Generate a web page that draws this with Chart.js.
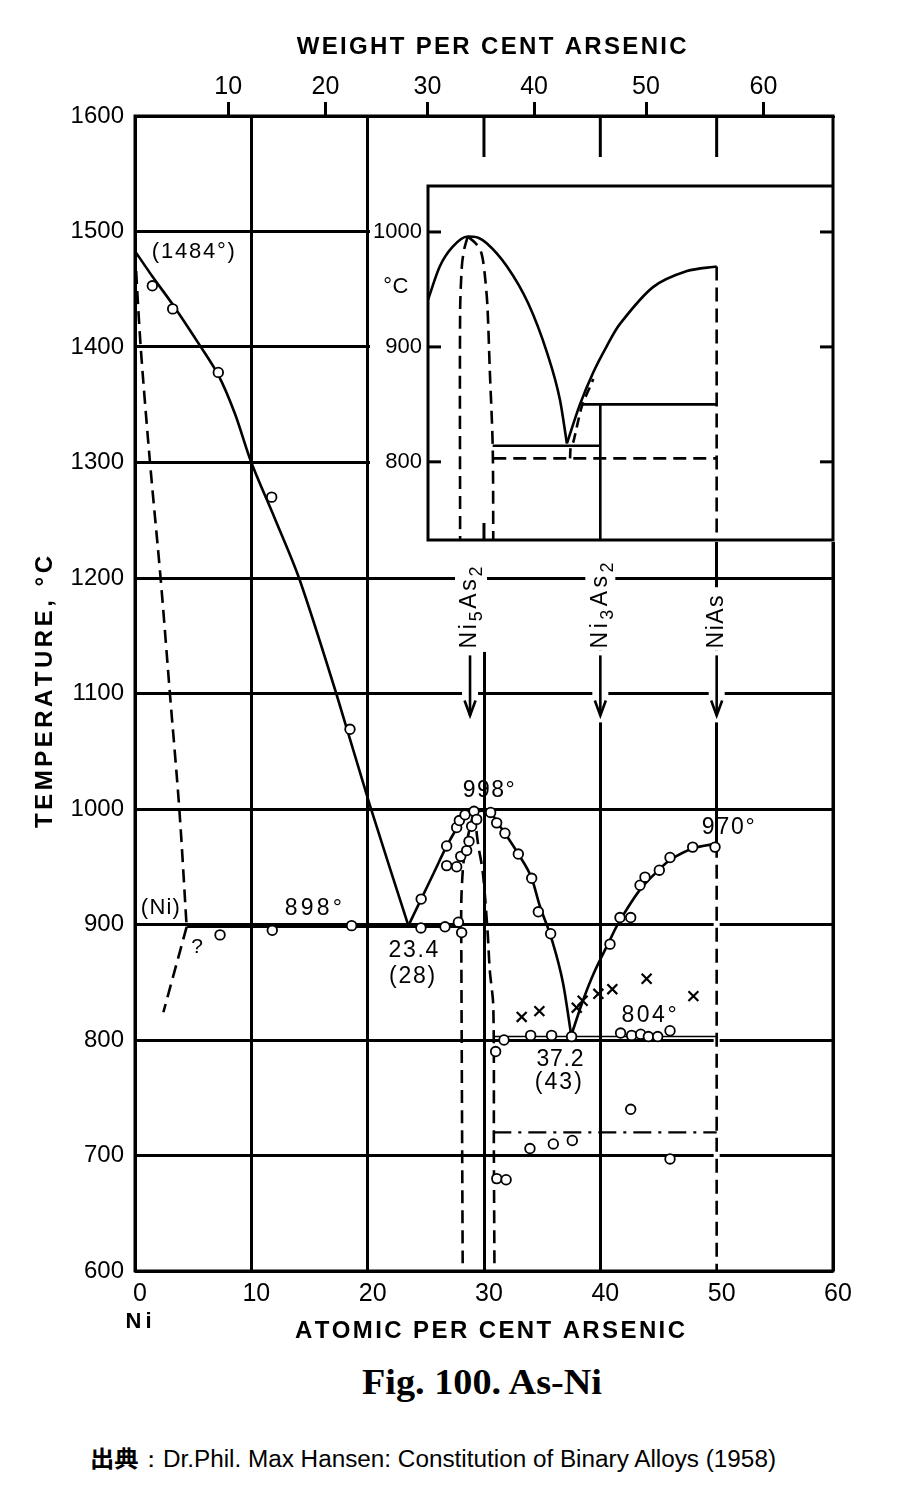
<!DOCTYPE html>
<html>
<head>
<meta charset="utf-8">
<title>As-Ni</title>
<script src="https://cdn.jsdelivr.net/npm/chart.js"></script>
<style>
  body { margin: 0; background: #fff; width: 902px; height: 1502px; position: relative; overflow: hidden; }
  #main { position: absolute; left: 0; top: 0; }
  #inset { position: absolute; left: 370px; top: 118px; background: #fff; }
  .caption { position: absolute; white-space: nowrap; line-height: 1; transform-origin: 0 0; color: #000; }
  #fig { left: 362px; top: 1363px; font: bold 35px "Liberation Serif", serif; }
  #src { left: 90px; top: 1440px; font: 23px "Liberation Sans", sans-serif; }
  #src b { font-family: "Noto Sans CJK JP", sans-serif; }
</style>
</head>
<body>
<canvas id="main" width="902" height="1360"></canvas>
<canvas id="inset" width="465" height="424"></canvas>
<div id="fig" class="caption">Fig. 100. As-Ni</div>
<div id="src" class="caption"><b>出典</b>：Dr.Phil. Max Hansen: Constitution of Binary Alloys (1958)</div>

<script>

// liquidus from pure Ni to the 898° eutectic
const liqNiX = [0, 1.5, 3.3, 5.6, 7.2, 8.6, 10, 12, 14.1, 17.3, 20.2, 23.5];
const liqNiT = [1483, 1461, 1436, 1401, 1375, 1342, 1300, 1252, 1200, 1100, 1003, 899];
// solidus / solvus of (Ni), dashed
const solNiX = [0, 0.49, 1.29, 2.2, 3.0, 3.81, 4.44];
const solNiT = [1483, 1400, 1300, 1200, 1100, 1000, 898];
const solvusX = [4.44, 2.44];
const solvusT = [898, 824];
// eutectic horizontal
const eut898X = [4.44, 28.05];
const eut898T = [898, 898];
// liquidus over the Ni5As2 maximum (998°)
const liqPeakX = [23.5, 24.6, 25.7, 26.8, 27.7, 28.4, 29.14, 30.0, 30.6, 31.1, 31.8, 32.95, 34.1, 34.8, 35.8, 36.8, 37.5];
const liqPeakT = [899, 922, 945, 968, 984, 995, 998, 998.5, 997, 989, 979, 961, 940, 916, 888, 849, 804];
// liquidus up to NiAs (970°)
const liqNiAsX = [37.5, 38.5, 39.4, 40.7, 41.6, 43.4, 45.1, 46.0, 48.0, 50.0];
const liqNiAsT = [804, 834, 857, 884, 902, 930, 948, 956, 966, 970];
// Ni5As2 phase boundaries, dashed
const ni5LeftX = [29.14, 28.7, 28.4, 28.2, 28.05, 28.05, 28.17];
const ni5LeftT = [998, 980, 965, 950, 920, 880, 600];
const ni5RightX = [29.14, 29.3, 29.5, 29.9, 30.3, 30.5, 30.8, 30.85, 30.9];
const ni5RightT = [998, 985, 969, 945, 895, 860, 829, 700, 600];
// 804° horizontal, NiAs line, 720° transformation
const eut804X = [30.8, 50];
const eut804T = [803, 803];
const niAsX = [50, 50];
const niAsT = [970, 600];
const trans720X = [30.8, 50];
const trans720T = [720, 720];

// thermal analysis points (open circles)
const circleX = [1.49, 3.24, 7.16, 11.75, 18.48,
  7.31, 11.8, 18.62, 24.58, 26.65, 27.8, 28.08,
  24.6, 26.79, 27.65, 27.88, 28.37, 29.14, 30.57, 31.09, 31.8, 32.95, 34.1, 34.67, 35.73,
  26.79, 27.65, 28.0, 28.51, 28.71, 28.94, 29.37,
  31.72, 34.01, 35.81, 37.53, 41.74, 42.69, 43.47, 44.13, 44.93, 45.99,
  31.0, 42.61, 33.95, 35.96, 37.59, 45.99, 31.1, 31.9,
  40.83, 41.69, 42.61, 43.41, 43.84, 45.07, 45.99, 47.94, 49.86];
const circleT = [1453, 1433, 1378, 1270, 1069,
  891, 895, 899, 897, 898, 902, 893,
  922, 968, 984, 990, 995, 998, 997, 988, 979, 961, 940, 911, 892,
  951, 950, 959, 964, 972, 985, 991,
  800, 804, 804, 803, 806, 804, 805, 803, 803, 808,
  790, 740, 706, 710, 713, 697, 680, 679,
  883, 906, 906, 934, 941, 947, 958, 967, 967];
// crosses
const crossX = [33.24, 34.76, 37.97, 38.48, 39.83, 41.03, 43.98, 48.0];
const crossT = [820, 825, 828, 834, 840, 844, 853, 838];

// compounds marked with arrows
const compoundAt = [28.8, 40, 50];
const compoundRuns = [
  [['Ni', 0], ['5', 1], ['As', 0], ['2', 1]],
  [['Ni', 0], ['3', 1], ['As', 0], ['2', 1]],
  [['Ni', 0], ['As', 0]]
];

// axes
const tempTicks = [600, 700, 800, 900, 1000, 1100, 1200, 1300, 1400, 1500, 1600];
const weightTicks = [10, 20, 30, 40, 50, 60];

// inset (same composition scale)
const insetXMin = 25.19;
const insetTMin = 732;
const insetTMax = 1040;
const insetTicks = [800, 900, 1000];
const inLiqX = [25.19, 26.2, 27.3, 28.6, 29.5, 30.26, 31.98, 33.8, 35.42, 36.53, 37.13];
const inLiqT = [941, 970, 987, 996, 995, 990, 970, 938, 895, 854, 816];
const inLiqRX = [37.13, 38.25, 39.4, 40.57, 41.69, 44.53, 47.45, 50];
const inLiqRT = [816, 850, 878, 901, 920, 952, 966, 970];
const inNi5LX = [28.6, 28.3, 28.1, 27.95, 27.95];
const inNi5LT = [996, 985, 970, 930, 732];
const inNi5RX = [28.6, 29.3, 29.8, 30.1, 30.3, 30.5, 30.75, 30.8];
const inNi5RT = [996, 990, 981, 960, 935, 880, 814, 732];
const in815X = [30.75, 40];
const in815T = [814, 814];
const in803X = [30.8, 50];
const in803T = [803, 803];
const inHighX = [37.4, 37.45, 37.7, 38.4, 39.4];
const inHighT = [803, 812, 818, 848, 872];
const in850X = [38.4, 50];
const in850T = [850, 850];
const inNi3X = [40, 40];
const inNi3T = [850, 732];
const inNiAsX = [50, 50];
const inNiAsT = [970, 732];

const FONT = '"Liberation Sans", Arial, sans-serif';
const DASH = [13, 7];

function weightToAtomic(w) {
  const as = w / 74.92, ni = (100 - w) / 58.69;
  return 100 * as / (as + ni);
}

function xy(xs, ts) {
  return xs.map((x, i) => ({ x: x, y: ts[i] }));
}

function lineSet(xs, ts, opts) {
  return Object.assign({
    data: xy(xs, ts),
    showLine: true,
    borderColor: '#000',
    borderWidth: 2.6,
    pointRadius: 0,
    fill: false,
    tension: 0
  }, opts || {});
}

// text spread out to a given width (the original lettering is widely spaced)
function spacedText(ctx, text, cx, cy, size, width, opts) {
  opts = opts || {};
  ctx.save();
  ctx.translate(cx, cy);
  if (opts.rotate) ctx.rotate(opts.rotate);
  ctx.font = (opts.weight || 'normal') + ' ' + size + 'px ' + FONT;
  ctx.fillStyle = '#000';
  ctx.textBaseline = 'middle';
  ctx.textAlign = 'left';
  const chars = Array.from(text);
  const widths = chars.map(c => ctx.measureText(c).width);
  const natural = widths.reduce((a, b) => a + b, 0);
  const gap = (chars.length > 1 && width) ? (width - natural) / (chars.length - 1) : 0;
  let x = -(natural + gap * (chars.length - 1)) / 2;
  chars.forEach((c, i) => {
    ctx.fillText(c, x, 0);
    x += widths[i] + gap;
  });
  ctx.restore();
}

// vertical formula with subscripts, read bottom to top
function drawFormula(ctx, runs, px, pyBottom, size, length) {
  ctx.save();
  ctx.translate(px, pyBottom);
  ctx.rotate(-Math.PI / 2);
  ctx.fillStyle = '#000';
  ctx.textBaseline = 'middle';
  ctx.textAlign = 'left';
  const glyphs = [];
  runs.forEach(([t, sub]) => {
    const fs = sub ? Math.round(size * 0.8) : size;
    ctx.font = fs + 'px ' + FONT;
    Array.from(t).forEach(ch => glyphs.push({ ch: ch, fs: fs, dy: sub ? size * 0.32 : 0, w: ctx.measureText(ch).width }));
  });
  const natural = glyphs.reduce((s, g) => s + g.w, 0);
  const gap = (length - natural) / (glyphs.length - 1);
  let x = 0;
  glyphs.forEach(g => {
    ctx.font = g.fs + 'px ' + FONT;
    ctx.fillText(g.ch, x, g.dy);
    x += g.w + gap;
  });
  ctx.restore();
}

function seg(ctx, x1, y1, x2, y2) {
  ctx.beginPath();
  ctx.moveTo(x1, y1);
  ctx.lineTo(x2, y2);
  ctx.stroke();
}

// [text, at%, °C, font size, width]
const notes = [
  ['(1484°)', 5.01, 1482, 22, 83],
  ['898°', 15.33, 914, 23, 57],
  ['(Ni)', 2.18, 914, 22, 39],
  ['?', 5.33, 880, 21, 9],
  ['23.4', 23.93, 877, 23, 50],
  ['(28)', 23.82, 855, 23, 46],
  ['998°', 30.41, 1016, 23, 52],
  ['970°', 51.0, 984, 23, 53],
  ['804°', 44.19, 821, 23, 55],
  ['37.2', 36.53, 783, 23, 47],
  ['(43)', 36.39, 763, 23, 47]
];

// grid stretches that are blank in the original: [at%, top °C, bottom °C, half width px]
const gridGaps = [
  [50, 968, 600, 3],
  [30, 1232, 1136, 3],
  [28.8, 1232, 1137, 15], [28.8, 1137, 1075, 8],
  [40, 1232, 1137, 15], [40, 1137, 1075, 8],
  [50, 1192, 1137, 13], [50, 1137, 1075, 8]
];
const formulaLength = [82, 86, 53];

function noPad(s) {
  s.paddingLeft = 0; s.paddingRight = 0; s.paddingTop = 0; s.paddingBottom = 0;
}

const mainDecor = {
  id: 'mainDecor',
  beforeDatasetsDraw(chart) {
    const { ctx, scales: { x, y } } = chart;
    ctx.save();
    ctx.fillStyle = '#fff';
    gridGaps.forEach(([at, t1, t2, half]) => {
      const px = x.getPixelForValue(at);
      const y1 = y.getPixelForValue(t1), y2 = y.getPixelForValue(t2);
      ctx.fillRect(px - half, y1, half * 2, y2 - y1);
    });
    ctx.restore();
  },
  afterDatasetsDraw(chart) {
    const { ctx, chartArea: a, scales: { x, y } } = chart;
    ctx.save();
    ctx.strokeStyle = '#000';
    ctx.lineWidth = 3;
    ctx.strokeRect(a.left, a.top, a.right - a.left, a.bottom - a.top);

    // compound labels and arrows
    compoundAt.forEach((at, i) => {
      const px = x.getPixelForValue(at);
      drawFormula(ctx, compoundRuns[i], px, y.getPixelForValue(1139), 23, formulaLength[i]);
      const y0 = y.getPixelForValue(1133), y1 = y.getPixelForValue(1081);
      ctx.lineWidth = 2.6;
      seg(ctx, px, y0, px, y1);
      ctx.beginPath();
      ctx.moveTo(px - 5.5, y1 - 15);
      ctx.lineTo(px, y1);
      ctx.lineTo(px + 5.5, y1 - 15);
      ctx.stroke();
    });

    notes.forEach(([t, at, temp, size, w]) => {
      spacedText(ctx, t, x.getPixelForValue(at), y.getPixelForValue(temp), size, w);
    });

    // axis titles
    spacedText(ctx, 'WEIGHT PER CENT ARSENIC', 491.7, 47.5, 24, 390, { weight: 'bold' });
    spacedText(ctx, 'ATOMIC PER CENT ARSENIC', 490, 1331, 24, 390, { weight: 'bold' });
    spacedText(ctx, 'TEMPERATURE, °C', 45, 692, 24, 272, { weight: 'bold', rotate: -Math.PI / 2 });
    spacedText(ctx, 'Ni', 138.6, 1321.7, 22, 26, { weight: 'bold' });
    ctx.restore();
  }
};

const insetDecor = {
  id: 'insetDecor',
  afterDatasetsDraw(chart) {
    const { ctx, chartArea: a, scales: { x, y } } = chart;
    ctx.save();
    ctx.strokeStyle = '#000';
    ctx.lineWidth = 3;
    ctx.beginPath();
    ctx.moveTo(a.right, 0);
    ctx.lineTo(a.right, a.bottom);
    ctx.lineTo(a.left, a.bottom);
    ctx.lineTo(a.left, a.top);
    ctx.lineTo(a.right, a.top);
    ctx.stroke();
    // grid stubs of the main diagram above the inset
    [30, 40, 50].forEach(v => {
      const px = x.getPixelForValue(v);
      seg(ctx, px, 0, px, 39);
    });
    insetTicks.forEach(t => {
      const py = y.getPixelForValue(t);
      seg(ctx, a.left, py, a.left + 13, py);
      seg(ctx, a.right - 13, py, a.right, py);
    });
    const p30 = x.getPixelForValue(30);
    seg(ctx, p30, a.bottom - 17, p30, a.bottom);
    spacedText(ctx, '°C', 25.8, 169, 22, 25);
    ctx.restore();
  }
};

const tickFont = { family: FONT, size: 24 };

new Chart(document.getElementById('main').getContext('2d'), {
  type: 'scatter',
  data: {
    datasets: [
      { data: xy(circleX, circleT), pointStyle: 'circle', pointRadius: 4.8, pointBackgroundColor: '#fff',
        pointBorderColor: '#000', pointBorderWidth: 1.8 },
      { data: xy(crossX, crossT), pointStyle: 'crossRot', pointRadius: 7, pointBorderColor: '#000',
        pointBorderWidth: 2.2 },
      lineSet(liqNiX, liqNiT, { tension: 0.3 }),
      lineSet(solNiX, solNiT, { borderDash: DASH, tension: 0.3 }),
      lineSet(solvusX, solvusT, { borderDash: DASH }),
      lineSet(eut898X, eut898T),
      lineSet(liqPeakX, liqPeakT, { cubicInterpolationMode: 'monotone' }),
      lineSet(liqNiAsX, liqNiAsT, { tension: 0.3 }),
      lineSet(ni5LeftX, ni5LeftT, { borderDash: DASH, tension: 0.3 }),
      lineSet(ni5RightX, ni5RightT, { borderDash: DASH, tension: 0.3 }),
      lineSet(eut804X, eut804T, { borderWidth: 1.6 }),
      lineSet(niAsX, niAsT, { borderDash: [14, 7] }),
      lineSet(trans720X, trans720T, { borderDash: [18, 7, 3, 7], borderWidth: 2.2 })
    ]
  },
  options: {
    responsive: false,
    animation: false,
    events: [],
    layout: { padding: { left: 0, top: 0, right: 69, bottom: 0 } },
    plugins: { legend: { display: false }, tooltip: { enabled: false } },
    scales: {
      x: {
        type: 'linear', position: 'bottom', min: 0, max: 60,
        afterFit: s => { s.height = 89; noPad(s); },
        ticks: { stepSize: 10, font: { family: FONT, size: 25 }, color: '#000', padding: 8, labelOffset: 5,
          callback: v => String(v) },
        grid: { color: '#000', lineWidth: 3, drawTicks: false },
        border: { display: false }
      },
      xTop: {
        type: 'linear', position: 'top', min: 0, max: 60,
        afterBuildTicks: s => { s.ticks = weightTicks.map(w => ({ value: weightToAtomic(w) })); },
        afterFit: s => { s.height = 116; noPad(s); },
        ticks: { autoSkip: false, font: { family: FONT, size: 25 }, color: '#000', padding: 0,
          callback: (v, i) => String(weightTicks[i]) },
        grid: { drawOnChartArea: false, drawTicks: true, tickLength: 14, tickWidth: 3, color: '#000' },
        border: { display: false }
      },
      y: {
        type: 'linear', position: 'left', min: 600, max: 1600,
        afterBuildTicks: s => { s.ticks = tempTicks.map(v => ({ value: v })); },
        afterFit: s => { s.width = 135; noPad(s); },
        ticks: { autoSkip: false, font: tickFont, color: '#000', padding: 11, callback: v => String(v) },
        grid: { color: '#000', lineWidth: 3, drawTicks: false },
        border: { display: false }
      }
    }
  },
  plugins: [mainDecor]
});

new Chart(document.getElementById('inset').getContext('2d'), {
  type: 'scatter',
  data: {
    datasets: [
      lineSet(inLiqX, inLiqT, { cubicInterpolationMode: 'monotone' }),
      lineSet(inLiqRX, inLiqRT, { tension: 0.3 }),
      lineSet(inNi5LX, inNi5LT, { borderDash: DASH, tension: 0.3 }),
      lineSet(inNi5RX, inNi5RT, { borderDash: DASH, tension: 0.3 }),
      lineSet(in815X, in815T),
      lineSet(in803X, in803T, { borderDash: DASH }),
      lineSet(inHighX, inHighT, { borderDash: [10, 6], tension: 0.2 }),
      lineSet(in850X, in850T),
      lineSet(inNi3X, inNi3T),
      lineSet(inNiAsX, inNiAsT, { borderDash: [14, 7] })
    ]
  },
  options: {
    responsive: false,
    animation: false,
    events: [],
    layout: { padding: { left: 0, top: 68, right: 2, bottom: 2 } },
    plugins: { legend: { display: false }, tooltip: { enabled: false } },
    scales: {
      x: { type: 'linear', display: false, min: insetXMin, max: 60 },
      y: {
        type: 'linear', position: 'left', min: insetTMin, max: insetTMax,
        afterBuildTicks: s => { s.ticks = insetTicks.map(v => ({ value: v })); },
        afterFit: s => { s.width = 58; noPad(s); },
        ticks: { autoSkip: false, font: { family: FONT, size: 22 }, color: '#000', padding: 6,
          callback: v => String(v) },
        grid: { display: false, drawTicks: false },
        border: { display: false }
      }
    }
  },
  plugins: [insetDecor]
});

// squeeze the caption lines to the widths of the original
function fitWidth(id, width) {
  const el = document.getElementById(id);
  el.style.transform = 'none';
  const w = el.getBoundingClientRect().width;
  el.style.transform = 'scaleX(' + (width / w) + ')';
}
function fitCaptions() {
  fitWidth('fig', 240);
  fitWidth('src', 686);
}
fitCaptions();
document.fonts.ready.then(fitCaptions);
</script>
</body>
</html>
